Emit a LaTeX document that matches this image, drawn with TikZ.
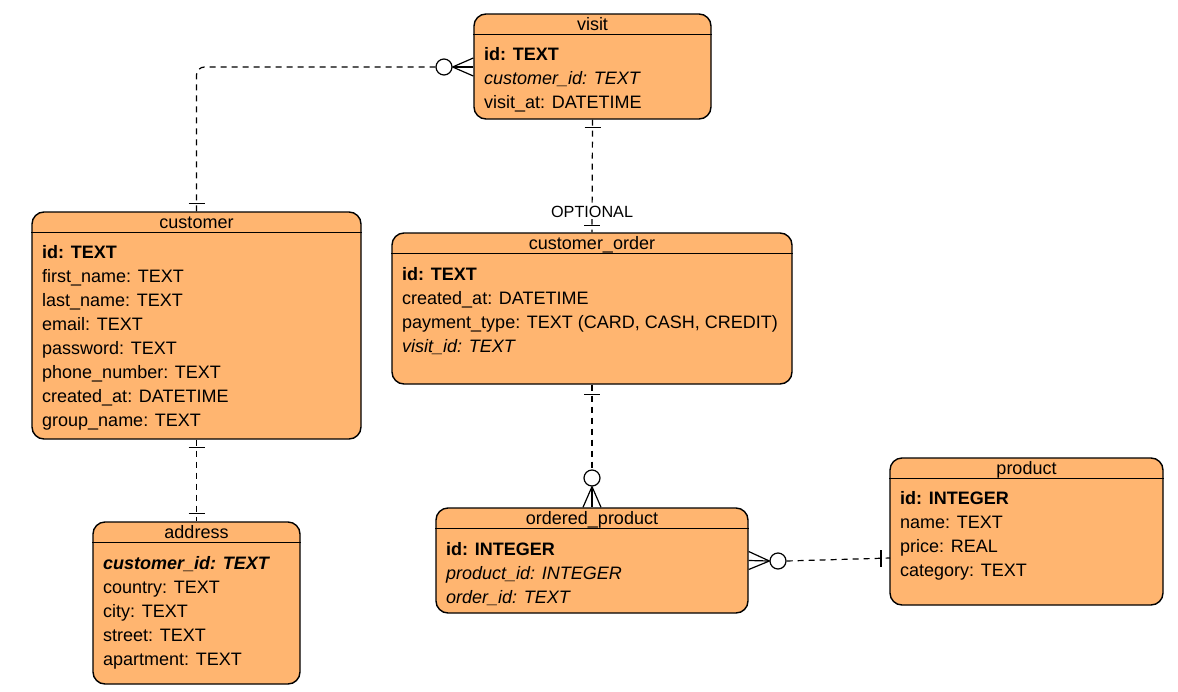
\documentclass[tikz,border=0pt]{standalone}
\usepackage{fontspec}
\setmainfont{Liberation Sans}
\usetikzlibrary{calc}
\definecolor{entfill}{HTML}{FFB570}
\begin{document}
\begin{tikzpicture}[x=1pt,y=-1pt,
 entity/.style={draw=black, fill=entfill, line width=1.4pt, rounded corners=12pt, inner sep=0pt},
 sepline/.style={line width=1.4pt},
 ttl/.style={anchor=base, inner sep=0pt, font=\fontsize{18}{21}\selectfont},
 fld/.style={anchor=base west, inner sep=0pt, font=\fontsize{18}{21}\selectfont},
 rel/.style={draw=black, line width=1.2pt, dash pattern=on 6pt off 5pt},
 tip/.style={draw=black, line width=1.2pt},
 circ/.style={circle, draw=black, fill=white, line width=1.2pt, minimum size=16pt, inner sep=0pt},
 lbl/.style={fill=white, inner sep=1pt, font=\fontsize{16.2}{19}\selectfont}]
\useasboundingbox[fill=white] (0,0) rectangle (1178,691);

% ---------- entities ----------
\node[entity, minimum width=237pt, minimum height=105pt] (visit) at (592.5,66.5) {};
\node[entity, minimum width=329pt, minimum height=227pt] (customer) at (196.5,325.5) {};
\node[entity, minimum width=400pt, minimum height=151pt] (corder) at (592,308.5) {};
\node[entity, minimum width=207pt, minimum height=162pt] (address) at (196.5,603) {};
\node[entity, minimum width=312pt, minimum height=105pt] (op) at (592,560.5) {};
\node[entity, minimum width=273pt, minimum height=147pt] (product) at (1026.5,531.5) {};

\foreach \e in {visit,customer,corder,address,op,product}{
  \draw[sepline] ($(\e.north west)+(0,21)$) -- ($(\e.north east)+(0,21)$);
}

% visit
\node[ttl] (visitT) at (592.5,30) {visit};
\node[fld] (v1) at (484,60) {\textbf{id: TEXT}};
\node[fld] (v2) at (484,84) {\textit{customer\_id: TEXT}};
\node[fld] (v3) at (484,108) {visit\_at: DATETIME};

% customer
\node[ttl] (customerT) at (196.5,228) {customer};
\node[fld] (cu1) at (42,258) {\textbf{id: TEXT}};
\node[fld] (cu2) at (42,282) {first\_name: TEXT};
\node[fld] (cu3) at (42,306) {last\_name: TEXT};
\node[fld] (cu4) at (42,330) {email: TEXT};
\node[fld] (cu5) at (42,354) {password: TEXT};
\node[fld] (cu6) at (42,378) {phone\_number: TEXT};
\node[fld] (cu7) at (42,402) {created\_at: DATETIME};
\node[fld] (cu8) at (42,426) {group\_name: TEXT};

% customer_order
\node[ttl] (corderT) at (592,249) {customer\_order};
\node[fld] (co1) at (402,280) {\textbf{id: TEXT}};
\node[fld] (co2) at (402,304) {created\_at: DATETIME};
\node[fld] (co3) at (402,328) {payment\_type: TEXT (CARD, CASH, CREDIT)};
\node[fld] (co4) at (402,352) {\textit{visit\_id: TEXT}};

% address
\node[ttl] (addressT) at (196.5,538) {address};
\node[fld] (a1) at (103,569) {\textbf{\textit{customer\_id: TEXT}}};
\node[fld] (a2) at (103,593) {country: TEXT};
\node[fld] (a3) at (103,617) {city: TEXT};
\node[fld] (a4) at (103,641) {street: TEXT};
\node[fld] (a5) at (103,665) {apartment: TEXT};

% ordered_product
\node[ttl] (opT) at (592,524) {ordered\_product};
\node[fld] (o1) at (446,555) {\textbf{id: INTEGER}};
\node[fld] (o2) at (446,579) {\textit{product\_id: INTEGER}};
\node[fld] (o3) at (446,603) {\textit{order\_id: TEXT}};

% product
\node[ttl] (productT) at (1026.5,474) {product};
\node[fld] (p1) at (900,504) {\textbf{id: INTEGER}};
\node[fld] (p2) at (900,528) {name: TEXT};
\node[fld] (p3) at (900,552) {price: REAL};
\node[fld] (p4) at (900,576) {category: TEXT};

% ---------- relations ----------
% customer -- visit (one to zero-or-many)
\node[circ] (c1) at (444,67) {};
\draw[rel, rounded corners=8pt] (customer.north) |- (c1.west);
\draw[tip] (c1.east) -- (c1.east -| visit.west);
\draw[tip] (c1.east) -- ($(c1.east -| visit.west)+(0,-9)$);
\draw[tip] (c1.east) -- ($(c1.east -| visit.west)+(0,9)$);
\draw[tip] ($(customer.north)+(-8,-8)$) -- ++(16,0);

% visit -- customer_order (optional, one to one)
\draw[rel] (visit.south) -- (corder.north) node[lbl, pos=0.82] (opt) {OPTIONAL};
\draw[tip] ($(visit.south)+(-8,8)$) -- ++(16,0);
\draw[tip] ($(corder.north)+(-8,-7)$) -- ++(16,0);

% customer -- address (one to one)
\draw[rel] (customer.south) -- (address.north);
\draw[tip] ($(customer.south)+(-8,8)$) -- ++(16,0);
\draw[tip] ($(address.north)+(-8,-8)$) -- ++(16,0);

% customer_order -- ordered_product (one to zero-or-many)
\node[circ] (c4) at (592,478) {};
\draw[rel] (corder.south) -- (c4.north);
\draw[tip] ($(corder.south)+(-8,10)$) -- ++(16,0);
\draw[tip] (c4.south) -- (op.north);
\draw[tip] (c4.south) -- ($(op.north)+(-9,0)$);
\draw[tip] (c4.south) -- ($(op.north)+(9,0)$);

% ordered_product -- product (zero-or-many to one)
\node[circ] (c5) at (778,561) {};
\coordinate (pl) at (890,558);
\draw[rel] (c5.east) -- (pl);
\draw[tip] (c5.west) -- (op.east);
\draw[tip] (c5.west) -- ($(op.east)+(0,-9)$);
\draw[tip] (c5.west) -- ($(op.east)+(0,9)$);
\draw[tip] ($(pl)+(-9,-8)$) -- ++(0,17);
\end{tikzpicture}
\end{document}
